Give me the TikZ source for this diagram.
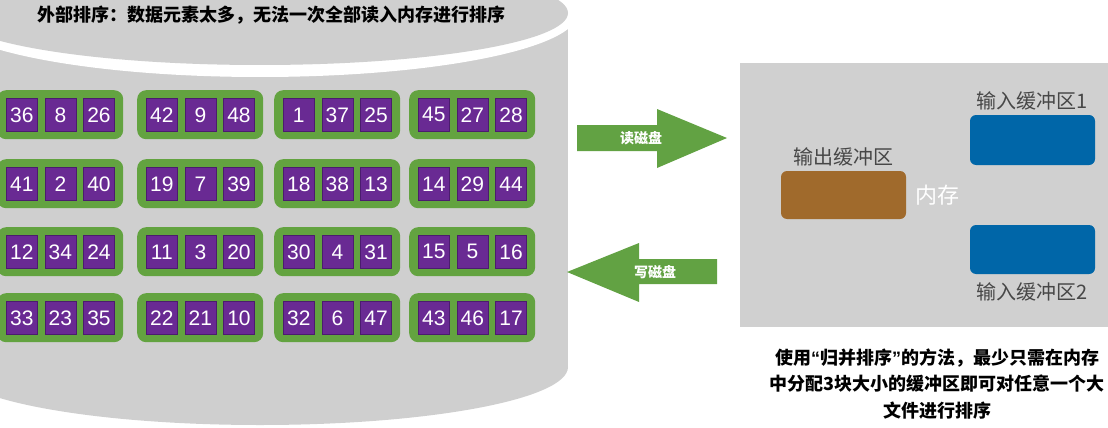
\documentclass[tikz,border=0pt]{standalone}
\usepackage{fontspec}
\setmainfont{Liberation Sans}
\newfontfamily\cjk{Noto Sans CJK SC}
\definecolor{disk}{HTML}{CFCFCF}
\definecolor{grp}{HTML}{63A340}
\definecolor{cell}{HTML}{692A93}
\definecolor{cellb}{HTML}{4B1C6E}
\definecolor{arrowg}{HTML}{62A243}
\definecolor{memc}{HTML}{D0D0D0}
\definecolor{outb}{HTML}{A06A2C}
\definecolor{inb}{HTML}{0066A8}
\definecolor{lbl}{HTML}{474747}
\begin{document}
\begin{tikzpicture}[x=1pt,y=-1pt,
  group/.style={draw=none, fill=grp, rounded corners=9pt, minimum width=126pt, minimum height=49pt, inner sep=0pt, anchor=north west},
  cellbox/.style={fill=cell, draw=cellb, line width=0.6pt, minimum width=31pt, minimum height=33pt, inner sep=0pt, text=white, font=\fontsize{21}{21}\selectfont, anchor=north west},
  blockarrow/.style={fill=arrowg},
  arrowlabel/.style={text=white, font=\cjk\bfseries\fontsize{14}{14}\selectfont},
  buffer/.style={rounded corners=6pt, minimum width=125pt, inner sep=0pt},
  buflabel/.style={text=lbl, font=\cjk\fontsize{20}{20}\selectfont},
  heading/.style={text=black, font=\cjk\bfseries\fontsize{18}{18}\selectfont}
]
\useasboundingbox (0,0) rectangle (1108,428);

% disk cylinder
\begin{scope}
  \clip (0,0) rectangle (568,428);
  \fill[disk] (-48,23) rectangle (568,367);
  \fill[disk] (260,367) ellipse [x radius=308, y radius=58];
  \fill[white] (260,13) ellipse [x radius=318, y radius=64];
  \fill[disk] (260,13) ellipse [x radius=308, y radius=52];
\end{scope}
\node[heading] (title) at (271,15) {外部排序：数据元素太多，无法一次全部读入内存进行排序};

% groups of numbers
\foreach \r/\c/\a/\b/\d in {
  1/1/36/8/26, 1/2/42/9/48, 1/3/1/37/25, 1/4/45/27/28,
  2/1/41/2/40, 2/2/19/7/39, 2/3/18/38/13, 2/4/14/29/44,
  3/1/12/34/24, 3/2/11/3/20, 3/3/30/4/31, 3/4/15/5/16,
  4/1/33/23/35, 4/2/22/21/10, 4/3/32/6/47, 4/4/43/46/17}{
  \pgfmathsetmacro{\gx}{{-3,137,274,409}[\c-1]}
  \pgfmathsetmacro{\gy}{{90,159,227,293}[\r-1]}
  \node[group] (g\r\c) at (\gx,\gy) {};
  \node[cellbox] (g\r\c-1) at ([xshift=9pt,yshift=-8pt]g\r\c.north west) {\a};
  \node[cellbox] (g\r\c-2) at ([xshift=7pt]g\r\c-1.north east) {\b};
  \node[cellbox] (g\r\c-3) at ([xshift=7pt]g\r\c-2.north east) {\d};
}

% read / write arrows
\fill[blockarrow] (577,125) -- (657,125) -- (657,109) -- (727,138) -- (657,168) -- (657,151) -- (577,151) -- cycle;
\node[arrowlabel] (readlbl) at (641,138) {读磁盘};
\fill[blockarrow] (567,272) -- (639,243) -- (639,259) -- (717,259) -- (717,284) -- (639,284) -- (639,302) -- cycle;
\node[arrowlabel] (writelbl) at (655,272) {写磁盘};

% memory
\node[fill=memc, minimum width=368pt, minimum height=264pt, inner sep=0pt, anchor=north west] (mem) at (740,63) {};
\node[buffer, fill=outb, minimum height=48pt] (outbuf) at (843.5,195) {};
\node[buflabel] (outlbl) at (843.5,157) {输出缓冲区};
\node[buffer, fill=inb, minimum height=50pt] (in1) at (1032.5,140) {};
\node[buflabel] (in1lbl) at (1032.5,101) {输入缓冲区1};
\node[buffer, fill=inb, minimum height=49pt] (in2) at (1032.5,249.5) {};
\node[buflabel] (in2lbl) at (1032.5,292) {输入缓冲区2};
\node[text=white, font=\cjk\fontsize{22}{22}\selectfont] (memlbl) at (937,195) {内存};

% note
\node[align=center, font=\cjk\bfseries\fontsize{18}{26.5}\selectfont] (note) at (937,384)
  {使用{\rmfamily “}归并排序{\rmfamily ”}的方法，最少只需在内存\\中分配3块大小的缓冲区即可对任意一个大\\文件进行排序};
\end{tikzpicture}
\end{document}
